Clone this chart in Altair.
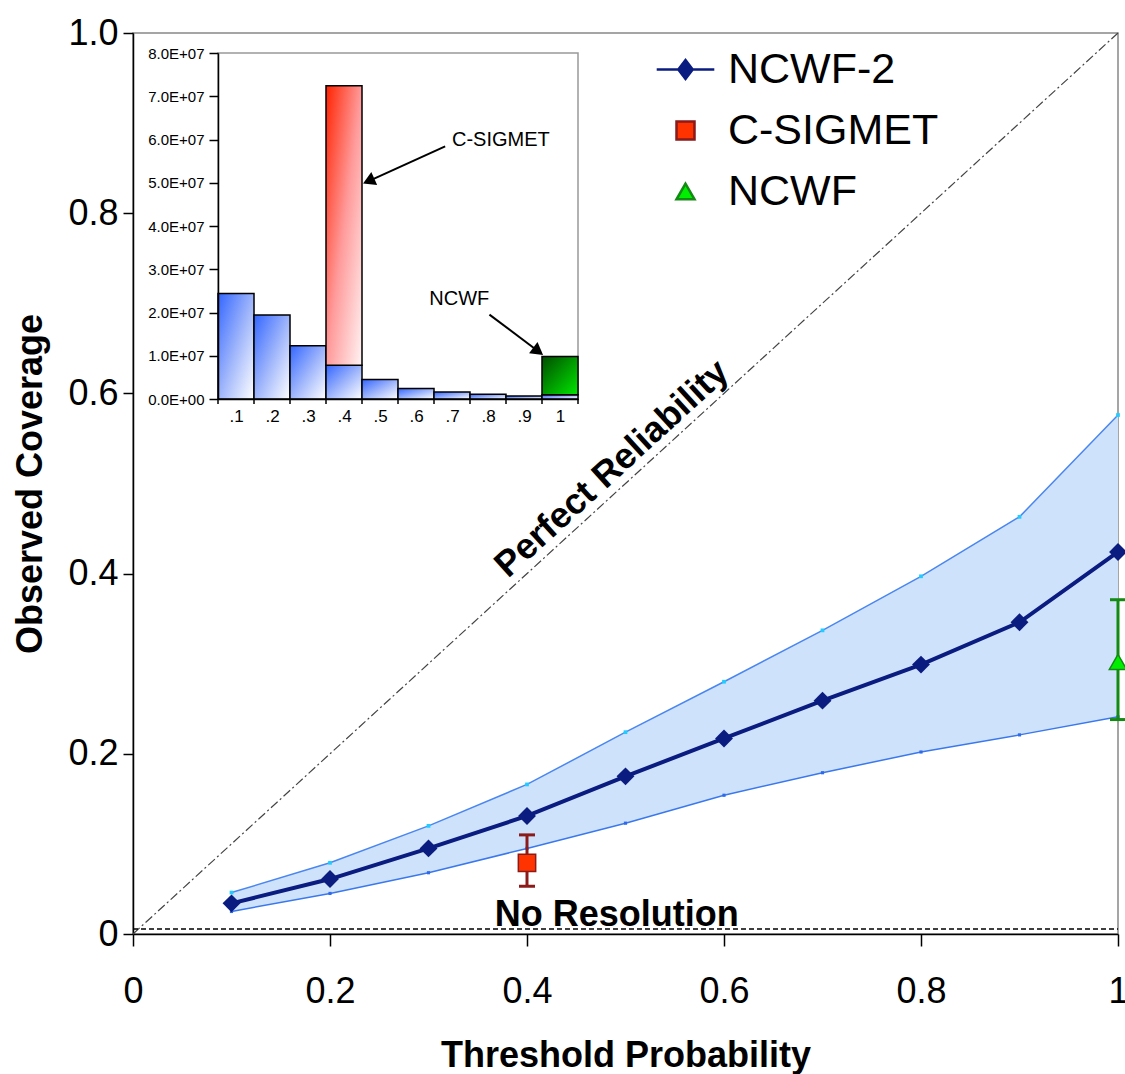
import math
import altair as alt
import pandas as pd

FONT = "Liberation Sans"

# ---------------- main reliability diagram data ----------------
thresholds = [0.1, 0.2, 0.3, 0.4, 0.5, 0.6, 0.7, 0.8, 0.9, 1.0]
ncwf2_cov = [0.034, 0.061, 0.095, 0.131, 0.175, 0.217, 0.259, 0.299, 0.346, 0.424]
ncwf2_upper = [0.046, 0.079, 0.120, 0.166, 0.224, 0.280, 0.337, 0.397, 0.463, 0.576]
ncwf2_lower = [0.025, 0.045, 0.068, 0.095, 0.123, 0.154, 0.179, 0.202, 0.221, 0.241]

point_series = ["C-SIGMET", "NCWF"]
point_x = [0.4, 1.0]
point_cov = [0.079, 0.302]
point_lo = [0.053, 0.238]
point_hi = [0.110, 0.371]

legend_names = ["NCWF-2", "C-SIGMET", "NCWF"]

perfect_x = [0.0, 1.0]
no_resolution_level = 0.0055

x_ticks = [0, 0.2, 0.4, 0.6, 0.8, 1.0]
y_ticks = [0, 0.2, 0.4, 0.6, 0.8, 1.0]

# ---------------- inset histogram data ----------------
hist_bins = [0.1, 0.2, 0.3, 0.4, 0.5, 0.6, 0.7, 0.8, 0.9, 1.0]
hist_counts = [24.4e6, 19.4e6, 12.3e6, 7.8e6, 4.5e6, 2.4e6, 1.6e6, 1.1e6, 0.7e6, 1.0e6]
csigmet_bin = 0.4
csigmet_count = 72.4e6
ncwf_bin = 1.0
ncwf_count = 9.8e6
hist_y_ticks = [0, 1e7, 2e7, 3e7, 4e7, 5e7, 6e7, 7e7, 8e7]

annot_labels = ["C-SIGMET", "NCWF"]
annot_x = [0.700, 0.637]
annot_y = [6.0e7, 2.31e7]
arrow_x_start = [0.681, 0.804]
arrow_y_start = [5.84e7, 1.95e7]
arrow_x_tip = [0.453, 0.953]
arrow_y_tip = [4.98e7, 1.02e7]

# ---------------- layout ----------------
W, H = 985, 901
INSET_X_RANGE = [85, 445]
INSET_Y_RANGE = [366, 20]
HEAD_SIZE = 200

NAVY = "#0b1c80"

# ---------------- data frames ----------------
main_df = pd.DataFrame({"p": thresholds, "cov": ncwf2_cov,
                        "upper": ncwf2_upper, "lower": ncwf2_lower})
pts_df = pd.DataFrame({"series": point_series, "p": point_x, "cov": point_cov,
                       "lo": point_lo, "hi": point_hi})
diag_df = pd.DataFrame({"p": perfect_x, "cov": perfect_x})
nores_df = pd.DataFrame({"p": [perfect_x[0]], "p2": [perfect_x[1]],
                         "cov": [no_resolution_level]})

xs = alt.Scale(domain=[0, 1], nice=False, zero=False)
ys = alt.Scale(domain=[0, 1], nice=False, zero=False)

xaxis = alt.Axis(values=x_ticks, grid=False, tickSize=12, tickWidth=1.5, tickColor="black",
                 domainColor="black", domainWidth=1.5, labelFontSize=36, labelFont=FONT,
                 labelColor="black", labelPadding=28, labelFlush=False,
                 labelExpr="datum.value == 0 ? '0' : (datum.value == 1 ? '1\u00a0' : format(datum.value, '.1f'))",
                 titleFontSize=36, titleFont=FONT, titleFontWeight="bold", titleColor="black",
                 titlePadding=29)
yaxis = alt.Axis(values=y_ticks, grid=False, tickSize=10, tickWidth=1.5, tickColor="black",
                 domainColor="black", domainWidth=1.5, labelFontSize=36, labelFont=FONT,
                 labelColor="black", labelPadding=5, labelFlush=False,
                 labelExpr="datum.value == 0 ? '0' : format(datum.value, '.1f')",
                 titleFontSize=36, titleFont=FONT, titleFontWeight="bold", titleColor="black",
                 titlePadding=18)
XT = "Threshold Probability"
YT = "Observed Coverage"


def X(f):
    return alt.X(f"{f}:Q", scale=xs, axis=xaxis, title=XT)


def Y(f):
    return alt.Y(f"{f}:Q", scale=ys, axis=yaxis, title=YT)


band = alt.Chart(main_df).mark_area(color="#cfe2fb", opacity=1).encode(
    x=X("p"), y=Y("lower"), y2="upper")
upper_line = alt.Chart(main_df).mark_line(color="#4a86f0", strokeWidth=1.5).encode(
    x=X("p"), y=Y("upper"))
lower_line = alt.Chart(main_df).mark_line(color="#3a78ee", strokeWidth=1.5).encode(
    x=X("p"), y=Y("lower"))
upper_pts = alt.Chart(main_df).mark_square(color="#22ccff", size=14, opacity=1).encode(
    x=X("p"), y=Y("upper"))
lower_pts = alt.Chart(main_df).mark_square(color="#2f6ae8", size=10, opacity=1).encode(
    x=X("p"), y=Y("lower"))

diag = alt.Chart(diag_df).mark_line(color="#444444", strokeWidth=1.2,
                                    strokeDash=[9, 3, 2, 3]).encode(x=X("p"), y=Y("cov"))
nores = alt.Chart(nores_df).mark_rule(color="black", strokeWidth=1.5,
                                      strokeDash=[5, 3]).encode(
    x=X("p"), x2="p2", y=Y("cov"))

ncwf2_line = alt.Chart(main_df).mark_line(color=NAVY, strokeWidth=4).encode(
    x=X("p"), y=Y("cov"))
ncwf2_pts = alt.Chart(main_df).mark_point(shape="diamond", filled=True, color=NAVY,
                                          size=320, opacity=1).encode(x=X("p"), y=Y("cov"))

err_colors = ["#8b1a1a", "#138a13"]
err_color = alt.Color("series:N", scale=alt.Scale(domain=point_series, range=err_colors),
                      legend=None)
err_rule = alt.Chart(pts_df).mark_rule(strokeWidth=3).encode(
    x=X("p"), y=Y("lo"), y2="hi", color=err_color)
cap_hi = alt.Chart(pts_df).mark_rule(strokeWidth=3, xOffset=-8, x2Offset=8).encode(
    x=X("p"), x2="p", y=Y("hi"), color=err_color)
cap_lo = alt.Chart(pts_df).mark_rule(strokeWidth=3, xOffset=-8, x2Offset=8).encode(
    x=X("p"), x2="p", y=Y("lo"), color=err_color)

legend_path = "M-3.2,0L3.2,0M0,-1.05L0.8,0L0,1.05L-0.8,0Z"
leg = alt.Legend(title=None, orient="none", legendX=531, legendY=15, labelFontSize=43,
                 labelFont=FONT, labelColor="black", labelLimit=400, symbolSize=324,
                 symbolStrokeWidth=2.5, labelOffset=21, rowPadding=17, padding=0,
                 symbolOpacity=1)
marker_pts = alt.Chart(pts_df).mark_point(filled=True, size=300, strokeWidth=1.5,
                                          opacity=1).encode(
    x=X("p"), y=Y("cov"),
    shape=alt.Shape("series:N", scale=alt.Scale(domain=legend_names,
                                                range=[legend_path, "square", "triangle-up"]),
                    legend=leg),
    fill=alt.Fill("series:N", scale=alt.Scale(domain=legend_names,
                                              range=[NAVY, "#ff3300", "#00ee00"]), legend=leg),
    stroke=alt.Stroke("series:N", scale=alt.Scale(domain=legend_names,
                                                  range=[NAVY, "#8b1a1a", "#138a13"]),
                      legend=leg),
)

diag_angle = 360 - math.degrees(math.atan2(H, W))
txt_df = pd.DataFrame({"p": [0.5], "cov": [0.5], "t": ["Perfect Reliability"]})
perfect_txt = alt.Chart(txt_df).mark_text(font=FONT, fontSize=36, fontWeight="bold",
                                          angle=diag_angle, align="center",
                                          baseline="alphabetic", dy=-9, color="black").encode(
    x=X("p"), y=Y("cov"), text="t:N")
nr_df = pd.DataFrame({"p": [0.491], "cov": [no_resolution_level], "t": ["No Resolution"]})
nores_txt = alt.Chart(nr_df).mark_text(font=FONT, fontSize=36, fontWeight="bold",
                                       align="center", baseline="alphabetic", dy=-3,
                                       color="black").encode(
    x=X("p"), y=Y("cov"), text="t:N")

main = alt.layer(band, upper_line, lower_line, upper_pts, lower_pts, diag, nores,
                 ncwf2_line, ncwf2_pts, err_rule, cap_hi, cap_lo, marker_pts,
                 perfect_txt, nores_txt)

# ---------------- inset ----------------
half = 0.05
edges = [round(b - half, 2) for b in hist_bins] + [round(hist_bins[-1] + half, 2)]
ixs = alt.Scale(domain=[edges[0], edges[-1]], range=INSET_X_RANGE, nice=False, zero=False)
iys = alt.Scale(domain=[hist_y_ticks[0], hist_y_ticks[-1]], range=INSET_Y_RANGE,
                nice=False, zero=False)
ixaxis = alt.Axis(orient="bottom", offset=-(H - INSET_Y_RANGE[0]), values=hist_bins,
                  labelExpr="datum.value > 0.95 ? '1' : replace(format(datum.value, '.1f'), '0.', '.')",
                  ticks=False, domainColor="black", domainWidth=1.5, labelFontSize=17,
                  labelFont=FONT, labelColor="black", labelPadding=9, labelFlush=False,
                  labelOverlap=False, grid=False, title=None, zindex=2)
iyaxis = alt.Axis(orient="left", offset=-INSET_X_RANGE[0], values=hist_y_ticks,
                  labelExpr="datum.value == 0 ? '0.0E+00' : "
                            "format(datum.value/1e7, '.1f') + 'E+07'",
                  tickSize=9, tickWidth=1.5, tickColor="black", domainColor="black",
                  domainWidth=1.5, labelFontSize=15, labelFont=FONT, labelColor="black",
                  labelPadding=5, labelFlush=False, labelOverlap=False, grid=False,
                  title=None, zindex=2)


def IX(f):
    return alt.X(f"{f}:Q", scale=ixs, axis=ixaxis)


def IY(f):
    return alt.Y(f"{f}:Q", scale=iys, axis=iyaxis)


frame_df = pd.DataFrame({"x0": [edges[0]], "x1": [edges[-1]],
                         "y0": [hist_y_ticks[0]], "y1": [hist_y_ticks[-1]]})
frame = alt.Chart(frame_df).mark_rect(fill="white", stroke="#999999", strokeWidth=1.5).encode(
    x=IX("x0"), x2="x1", y=IY("y0"), y2="y1")

edge_df = pd.DataFrame({"e": edges, "base": [0] * len(edges)})
edge_ticks = alt.Chart(edge_df).mark_rule(color="black", strokeWidth=1.5, y2Offset=5).encode(
    x=IX("e"), y=IY("base"), y2="base")

hist_df = pd.DataFrame({"lo": [b - half for b in hist_bins], "hi": [b + half for b in hist_bins],
                        "base": [0] * len(hist_bins), "n": hist_counts})
blue_grad = alt.LinearGradient(gradient="linear", x1=0, y1=0, x2=1, y2=1, stops=[
    alt.GradientStop(color="#3366ff", offset=0),
    alt.GradientStop(color="#9db4fb", offset=0.5),
    alt.GradientStop(color="#ffffff", offset=1)])
red_grad = alt.LinearGradient(gradient="linear", x1=0, y1=0, x2=1, y2=1, stops=[
    alt.GradientStop(color="#ff2200", offset=0),
    alt.GradientStop(color="#ff9a9a", offset=0.5),
    alt.GradientStop(color="#fff4f4", offset=1)])
green_grad = alt.LinearGradient(gradient="linear", x1=0, y1=0, x2=1, y2=1, stops=[
    alt.GradientStop(color="#004d00", offset=0),
    alt.GradientStop(color="#00e600", offset=1)])

blue_bars = alt.Chart(hist_df).mark_rect(fill=blue_grad, stroke="black", strokeWidth=1.5).encode(
    x=IX("lo"), x2="hi", y=IY("base"), y2="n")

base_at = dict(zip(hist_bins, hist_counts))
extra_df = pd.DataFrame({"lo": [csigmet_bin - half, ncwf_bin - half],
                         "hi": [csigmet_bin + half, ncwf_bin + half],
                         "base": [base_at[csigmet_bin], base_at[ncwf_bin]],
                         "n": [csigmet_count, ncwf_count]})
red_bar = alt.Chart(extra_df.iloc[[0]]).mark_rect(fill=red_grad, stroke="black",
                                                  strokeWidth=1.5).encode(
    x=IX("lo"), x2="hi", y=IY("base"), y2="n")
green_bar = alt.Chart(extra_df.iloc[[1]]).mark_rect(fill=green_grad, stroke="black",
                                                    strokeWidth=1.5).encode(
    x=IX("lo"), x2="hi", y=IY("base"), y2="n")

# arrows
px_x = (INSET_X_RANGE[1] - INSET_X_RANGE[0]) / (edges[-1] - edges[0])
px_y = (INSET_Y_RANGE[0] - INSET_Y_RANGE[1]) / (hist_y_ticks[-1] - hist_y_ticks[0])
h = 0.866 * math.sqrt(HEAD_SIZE) / 2
hx, hy, ha = [], [], []
for xs0, ys0, xt, yt in zip(arrow_x_start, arrow_y_start, arrow_x_tip, arrow_y_tip):
    dx = (xt - xs0) * px_x
    dy = -(yt - ys0) * px_y
    L = math.hypot(dx, dy)
    ux, uy = dx / L, dy / L
    hx.append(xt - ux * h / px_x)
    hy.append(yt + uy * h / px_y)
    ha.append(math.degrees(math.atan2(ux, -uy)) % 360)

arrow_df = pd.DataFrame({"xs": arrow_x_start, "ys": arrow_y_start,
                         "xt": arrow_x_tip, "yt": arrow_y_tip,
                         "hx": hx, "hy": hy, "ha": ha,
                         "lx": annot_x, "ly": annot_y, "label": annot_labels})
shafts = alt.Chart(arrow_df).mark_rule(color="black", strokeWidth=2).encode(
    x=IX("xs"), y=IY("ys"), x2="hx", y2="hy")
heads = alt.Chart(arrow_df).mark_point(shape="triangle-up", filled=True, color="black",
                                       size=HEAD_SIZE, opacity=1).encode(
    x=IX("hx"), y=IY("hy"), angle=alt.Angle("ha:Q", scale=None))
labels = alt.Chart(arrow_df).mark_text(font=FONT, fontSize=20, align="left",
                                       baseline="middle", color="black").encode(
    x=IX("lx"), y=IY("ly"), text="label:N")

inset = alt.layer(frame, blue_bars, red_bar, green_bar, edge_ticks, shafts, heads, labels)

chart = alt.layer(main, inset).resolve_scale(x="independent", y="independent").properties(
    width=W, height=H, autosize="none",
    padding={"left": 133, "top": 33, "right": 1125 - 133 - W, "bottom": 1074 - 33 - H},
    background="white",
).configure_view(stroke="#888888", strokeWidth=1.5)

chart.save("out.html", embed_options={"renderer": "svg", "actions": False})
